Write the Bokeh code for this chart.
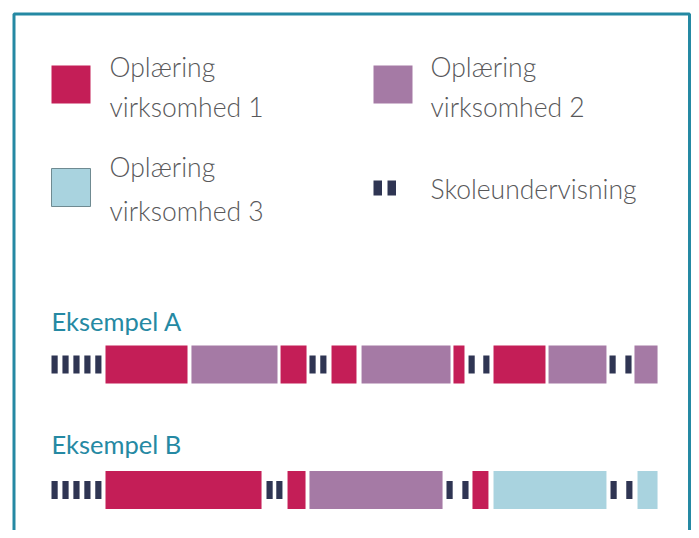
from bokeh.plotting import figure
from bokeh.models import Range1d
from bokeh.core.properties import value
from bokeh.embed import file_html
from bokeh.resources import INLINE

# ---- data (time in weeks) ----
kind_labels = {
    "V1": ["Oplæring", "virksomhed 1"],
    "V2": ["Oplæring", "virksomhed 2"],
    "V3": ["Oplæring", "virksomhed 3"],
    "S": ["Skoleundervisning"],
}
colors = {"V1": "#c41e57", "V2": "#a57aa5", "V3": "#a9d3df", "S": "#2f3553"}

example_names = ["Eksempel A", "Eksempel B"]

a_kind = ["S", "V1", "V2", "V1", "S", "V1", "V2", "V1", "S", "V1", "V2", "S", "V2"]
a_start = [0.00, 4.80, 12.44, 20.36, 22.93, 24.89, 27.56, 35.73, 37.07, 39.29, 44.18, 49.60, 51.82]
a_end = [4.44, 12.09, 20.09, 22.67, 24.44, 27.11, 35.47, 36.71, 38.93, 43.91, 49.33, 51.56, 53.87]
a_ticks = [5, 0, 0, 0, 2, 0, 0, 0, 2, 0, 0, 2, 0]

b_kind = ["S", "V1", "S", "V1", "V2", "S", "V1", "V3", "S", "V3"]
b_start = [0.00, 4.80, 19.11, 20.98, 22.93, 35.11, 37.42, 39.29, 49.69, 52.09]
b_end = [4.44, 18.67, 20.53, 22.58, 34.76, 37.07, 38.84, 49.33, 51.64, 53.87]
b_ticks = [5, 0, 2, 0, 0, 2, 0, 0, 2, 0]

examples = [(a_kind, a_start, a_end, a_ticks), (b_kind, b_start, b_end, b_ticks)]

# ---- layout ----
W, H = 691, 530
PX_PER_WEEK = 11.25
XMIN = -51 / PX_PER_WEEK
XMAX = XMIN + W / PX_PER_WEEK


def sx(fx):
    return XMIN + fx / PX_PER_WEEK


TICK_W = 0.55
row_y = [364, 489.5]
BAR_H = 38
TICK_H = 18
title_y = [320, 443]

p = figure(width=W, height=H, output_backend="svg", toolbar_location=None,
           x_range=Range1d(XMIN, XMAX), y_range=Range1d(H, 0),
           min_border=0, outline_line_color=None)
p.axis.visible = False
p.grid.visible = False
p.background_fill_color = "white"
p.border_fill_color = "white"

TEAL = "#2589a3"
TEXT = "#58585a"

# frame
p.quad(left=[sx(13.5)], right=[sx(689)], top=[13.5], bottom=[600],
       fill_alpha=0, line_color=TEAL, line_width=3)

# timelines
for (kind, start, end, ticks), yc, ty, name in zip(examples, row_y, title_y, example_names):
    bl, br, bc = [], [], []
    tl, tr = [], []
    for k, s, e, n in zip(kind, start, end, ticks):
        if k == "S":
            if n == 1:
                tl.append(s); tr.append(s + TICK_W)
            else:
                pitch = (e - s - TICK_W) / (n - 1)
                for i in range(n):
                    tl.append(s + i * pitch)
                    tr.append(s + i * pitch + TICK_W)
        else:
            bl.append(s); br.append(e); bc.append(colors[k])
    p.quad(left=bl, right=br, top=yc - BAR_H / 2, bottom=yc + BAR_H / 2,
           fill_color=bc, line_color=None)
    p.quad(left=tl, right=tr, top=yc - TICK_H / 2, bottom=yc + TICK_H / 2,
           fill_color=colors["S"], line_color=None)
    p.text(x=[sx(51)], y=[ty], text=[name], text_font=value("Lato"),
           text_font_size="25.5px", text_color=TEAL, text_baseline="middle")

# legend
leg_kind = ["V1", "V2", "V3", "S"]
leg_sq_x = [51, 373, 51, 373]
leg_sq_y = [65, 65, 168, 180]
leg_txt_x = [109, 430, 109, 430]
leg_txt_y = [[66, 106], [66, 106], [166, 210], [188]]

for k, qx, qy, tx, tys in zip(leg_kind, leg_sq_x, leg_sq_y, leg_txt_x, leg_txt_y):
    if k == "S":
        p.quad(left=[sx(qx), sx(qx + 14)], right=[sx(qx + 8.5), sx(qx + 22.5)],
               top=[qy, qy], bottom=[qy + 15, qy + 15], fill_color=colors["S"], line_color=None)
    else:
        lc = "#6f8a91" if k == "V3" else None
        p.quad(left=[sx(qx)], right=[sx(qx + 39)], top=[qy], bottom=[qy + 38],
               fill_color=colors[k], line_color=lc, line_width=1)
    p.text(x=[sx(tx)] * len(tys), y=tys, text=kind_labels[k],
           text_font=value("Lato Light"), text_font_size="26.5px",
           text_color=TEXT, text_baseline="middle")

open("out.html", "w").write(file_html(p, INLINE))
